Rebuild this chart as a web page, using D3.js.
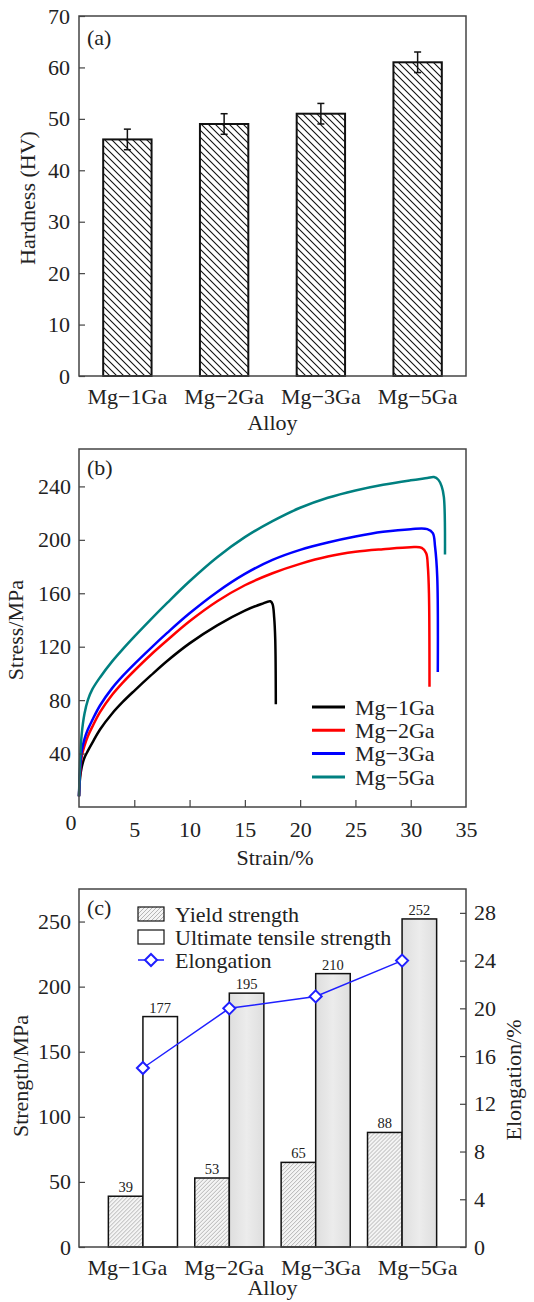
<!DOCTYPE html>
<html>
<head>
<meta charset="utf-8">
<script src="https://cdn.jsdelivr.net/npm/d3@7"></script>
<style>
  body { margin: 0; background: #fff; }
  text { font-family: "Liberation Serif", "Times New Roman", serif; fill: #222; }
</style>
</head>
<body>
<div id="chart"></div>
<script>
// ---- data ----
const alloys = ["Mg\u22121Ga", "Mg\u22122Ga", "Mg\u22123Ga", "Mg\u22125Ga"]

// (a) hardness
const hardness = [46, 49, 51, 61]
const hardnessErr = [2, 2, 2, 2]
const hardnessTicks = [0, 10, 20, 30, 40, 50, 60, 70]

// (b) stress-strain curves (strain %, stress MPa)
const strain1 = [0, 0.1, 0.25, 0.5, 0.8, 1.2, 1.9, 3, 4, 5, 6.5, 8, 10, 12.5, 15, 16.5, 17.3, 17.5, 17.65, 17.75, 17.8]
const stress1 = [8, 22, 30, 37, 42, 48, 58, 70, 79, 87, 98.5, 109.5, 122.5, 136, 147, 152, 154, 152, 142, 125, 77]
const strain2 = [0, 0.1, 0.25, 0.5, 0.8, 1.2, 1.9, 3, 4, 5, 6.5, 8, 10, 12.5, 15, 17.5, 20, 22.5, 25, 27.5, 30, 31, 31.4, 31.55, 31.65, 31.7]
const stress2 = [8, 25, 38, 46, 53, 60, 71, 84, 93.5, 102, 114, 125, 139, 154, 166, 175, 182, 187.5, 191, 193, 194.5, 194, 190, 180, 160, 90]
const strain3 = [0, 0.1, 0.25, 0.5, 0.8, 1.2, 1.9, 3, 4, 5, 6.5, 8, 10, 12.5, 15, 17.5, 20, 22.5, 25, 27.5, 30, 31.5, 32, 32.2, 32.4, 32.45]
const stress3 = [8, 28, 42, 51, 58, 65, 76, 89, 98.5, 107, 119, 130.5, 145, 161, 174.5, 185, 192.5, 198, 202.5, 206, 208, 208, 205, 195, 172, 101]
const strain5 = [0, 0.1, 0.25, 0.5, 0.8, 1.2, 1.9, 3, 4, 5, 6.5, 8, 10, 12.5, 15, 17.5, 20, 22.5, 25, 27.5, 30, 31.5, 32.1, 32.5, 32.8, 33, 33.1]
const stress5 = [8, 35, 55, 70, 80, 88, 97, 109, 118.5, 127.5, 140.5, 153, 169, 187, 202, 214, 224, 231.5, 237, 241.3, 244.6, 246.3, 247, 245, 240, 232, 189]
const curveColors = ["#000000", "#ff0000", "#0000ff", "#008080"]
const strainTicks = [5, 10, 15, 20, 25, 30, 35]
const stressTicks = [40, 80, 120, 160, 200, 240]

// (c) tensile properties
const yieldStrength = [39, 53, 65, 88]
const tensileStrength = [177, 195, 210, 252]
const elongation = [15, 20, 21, 24]
const strengthTicks = [0, 50, 100, 150, 200, 250]
const elongationTicks = [0, 4, 8, 12, 16, 20, 24, 28]

// ---- layout ----
const width = 534
const height = 1302
const left = 79
const right = 466
const fontSize = 22

const svg = d3.select("#chart")
  .append("svg")
  .attr("width", width)
  .attr("height", height)

const defs = svg.append("defs")

defs.append("pattern")
  .attr("id", "hatch-a")
  .attr("patternUnits", "userSpaceOnUse")
  .attr("width", 7)
  .attr("height", 7)
  .append("path")
  .attr("d", "M0,0 L7,7 M-1,6 L1,8 M6,-1 L8,1")
  .attr("stroke", "#111")
  .attr("stroke-width", 1.1)

const hatchC = defs.append("pattern")
  .attr("id", "hatch-c")
  .attr("patternUnits", "userSpaceOnUse")
  .attr("width", 4)
  .attr("height", 4)
hatchC.append("rect").attr("width", 4).attr("height", 4).attr("fill", "#f4f4f4")
hatchC.append("path")
  .attr("d", "M0,4 L4,0 M-1,1 L1,-1 M3,5 L5,3")
  .attr("stroke", "#9a9a9a")
  .attr("stroke-width", 0.7)

const grad = defs.append("linearGradient")
  .attr("id", "gray-fill")
  .attr("x1", "0").attr("x2", "1").attr("y1", "0").attr("y2", "0")
grad.append("stop").attr("offset", "0%").attr("stop-color", "#dedede")
grad.append("stop").attr("offset", "50%").attr("stop-color", "#ececec")
grad.append("stop").attr("offset", "100%").attr("stop-color", "#dedede")

function frame(top, bottom) {
  svg.append("rect")
    .attr("x", left)
    .attr("y", top)
    .attr("width", right - left)
    .attr("height", bottom - top)
    .attr("fill", "none")
    .attr("stroke", "#444")
    .attr("stroke-width", 1.5)
}

function styleAxis(g) {
  g.select(".domain").remove()
  g.selectAll(".tick line").attr("stroke", "#444").attr("stroke-width", 1.2)
  g.selectAll(".tick text")
    .attr("font-size", fontSize)
    .attr("font-family", "Liberation Serif, Times New Roman, serif")
    .attr("fill", "#222")
}

function yLabel(text, x, y) {
  svg.append("text")
    .attr("transform", `translate(${x},${y}) rotate(-90)`)
    .attr("text-anchor", "middle")
    .attr("dy", "0.35em")
    .attr("font-size", fontSize)
    .text(text)
}

function label(text, x, y, anchor) {
  svg.append("text")
    .attr("x", x)
    .attr("y", y)
    .attr("text-anchor", anchor || "middle")
    .attr("font-size", fontSize)
    .text(text)
}

// ---- (a) hardness ----
const aTop = 16, aBottom = 376
const xA = d3.scaleBand().domain(alloys).range([left, right]).paddingInner(0.5).paddingOuter(0.25)
const yA = d3.scaleLinear().domain([0, 70]).range([aBottom, aTop])

svg.append("g")
  .selectAll("rect")
  .data(alloys)
  .join("rect")
  .attr("x", d => xA(d))
  .attr("y", (d, i) => yA(hardness[i]))
  .attr("width", xA.bandwidth())
  .attr("height", (d, i) => aBottom - yA(hardness[i]))
  .attr("fill", "url(#hatch-a)")
  .attr("stroke", "#111")
  .attr("stroke-width", 2)

const err = svg.append("g").attr("stroke", "#111").attr("stroke-width", 1.5)
alloys.forEach((d, i) => {
  const cx = xA(d) + xA.bandwidth() / 2
  const lo = yA(hardness[i] - hardnessErr[i])
  const hi = yA(hardness[i] + hardnessErr[i])
  err.append("line").attr("x1", cx).attr("x2", cx).attr("y1", lo).attr("y2", hi)
  err.append("line").attr("x1", cx - 3.5).attr("x2", cx + 3.5).attr("y1", lo).attr("y2", lo)
  err.append("line").attr("x1", cx - 3.5).attr("x2", cx + 3.5).attr("y1", hi).attr("y2", hi)
})

svg.append("g")
  .attr("transform", `translate(${left},0)`)
  .call(d3.axisLeft(yA).tickValues(hardnessTicks).tickSize(-6).tickPadding(9))
  .call(styleAxis)

svg.append("g")
  .attr("transform", `translate(0,${aBottom})`)
  .call(d3.axisBottom(xA).tickSize(0).tickPadding(12))
  .call(styleAxis)

frame(aTop, aBottom)
label("(a)", 87, 45, "start")
label("Alloy", (left + right) / 2, 430)
yLabel("Hardness (HV)", 27, 198)

// ---- (b) stress-strain ----
const bTop = 449, bBottom = 807
const xB = d3.scaleLinear().domain([0, 35]).range([left, right])
const yB = d3.scaleLinear().domain([0, 268]).range([bBottom, bTop])

const curves = [
  {name: alloys[0], strain: strain1, stress: stress1},
  {name: alloys[1], strain: strain2, stress: stress2},
  {name: alloys[2], strain: strain3, stress: stress3},
  {name: alloys[3], strain: strain5, stress: stress5}
]

const line = d3.line()
  .x(d => xB(d[0]))
  .y(d => yB(d[1]))
  .curve(d3.curveCatmullRom.alpha(0.5))

curves.forEach((c, i) => {
  svg.append("path")
    .datum(d3.zip(c.strain, c.stress))
    .attr("fill", "none")
    .attr("stroke", curveColors[i])
    .attr("stroke-width", 2.5)
    .attr("stroke-linejoin", "round")
    .attr("d", line)
})

svg.append("g")
  .attr("transform", `translate(${left},0)`)
  .call(d3.axisLeft(yB).tickValues(stressTicks).tickSize(-6).tickPadding(8))
  .call(styleAxis)

svg.append("g")
  .attr("transform", `translate(0,${bBottom})`)
  .call(d3.axisBottom(xB).tickValues(strainTicks).tickSize(-7).tickPadding(14))
  .call(styleAxis)
  .call(g => g.selectAll(".tick").filter(d => d === 35).select("line").remove())

frame(bTop, bBottom)
label("0", 71, 830)
label("(b)", 87, 475, "start")
label("Strain/%", 275, 865)
yLabel("Stress/MPa", 15, 630)

const legB = svg.append("g")
curves.forEach((c, i) => {
  const y = 707 + i * 23.3
  legB.append("line")
    .attr("x1", 312).attr("x2", 345).attr("y1", y).attr("y2", y)
    .attr("stroke", curveColors[i]).attr("stroke-width", 3)
  legB.append("text")
    .attr("x", 355).attr("y", y).attr("dy", "0.35em")
    .attr("font-size", fontSize)
    .text(c.name)
})

// ---- (c) tensile properties ----
const cTop = 889, cBottom = 1247
const xC = d3.scaleBand().domain(alloys).range([left, right]).paddingInner(0).paddingOuter(0.24)
const xSub = d3.scaleBand().domain(["ys", "uts"]).range([0, xC.bandwidth() * 0.8])
const yC = d3.scaleLinear().domain([0, 275]).range([cBottom, cTop])
const yE = d3.scaleLinear().domain([0, 30]).range([cBottom, cTop])
const barOffset = xC.bandwidth() * 0.1

const groups = svg.append("g")
  .selectAll("g")
  .data(alloys)
  .join("g")
  .attr("transform", d => `translate(${xC(d) + barOffset},0)`)

groups.append("rect")
  .attr("x", xSub("ys"))
  .attr("y", (d, i) => yC(yieldStrength[i]))
  .attr("width", xSub.bandwidth())
  .attr("height", (d, i) => cBottom - yC(yieldStrength[i]))
  .attr("fill", "url(#hatch-c)")
  .attr("stroke", "#111")
  .attr("stroke-width", 1.5)

groups.append("rect")
  .attr("x", xSub("uts"))
  .attr("y", (d, i) => yC(tensileStrength[i]))
  .attr("width", xSub.bandwidth())
  .attr("height", (d, i) => cBottom - yC(tensileStrength[i]))
  .attr("fill", (d, i) => i === 0 ? "#fff" : "url(#gray-fill)")
  .attr("stroke", "#111")
  .attr("stroke-width", 1.5)

groups.append("text")
  .attr("x", xSub("ys") + xSub.bandwidth() / 2)
  .attr("y", (d, i) => yC(yieldStrength[i]) - 4)
  .attr("text-anchor", "middle")
  .attr("font-size", 14.5)
  .text((d, i) => yieldStrength[i])

groups.append("text")
  .attr("x", xSub("uts") + xSub.bandwidth() / 2)
  .attr("y", (d, i) => yC(tensileStrength[i]) - 4)
  .attr("text-anchor", "middle")
  .attr("font-size", 14.5)
  .text((d, i) => tensileStrength[i])

const diamond = "M0,-6 L6,0 L0,6 L-6,0 Z"
const elongPts = alloys.map((d, i) => [xC(d) + xC.bandwidth() / 2, yE(elongation[i])])

svg.append("path")
  .datum(elongPts)
  .attr("fill", "none")
  .attr("stroke", "#1f1fff")
  .attr("stroke-width", 1.5)
  .attr("d", d3.line())

svg.append("g")
  .selectAll("path")
  .data(elongPts)
  .join("path")
  .attr("transform", d => `translate(${d[0]},${d[1]})`)
  .attr("d", diamond)
  .attr("fill", "#fff")
  .attr("stroke", "#1f1fff")
  .attr("stroke-width", 2)

svg.append("g")
  .attr("transform", `translate(${left},0)`)
  .call(d3.axisLeft(yC).tickValues(strengthTicks).tickSize(-6).tickPadding(8))
  .call(styleAxis)

svg.append("g")
  .attr("transform", `translate(${right},0)`)
  .call(d3.axisRight(yE).tickValues(elongationTicks).tickSize(-6).tickPadding(8))
  .call(styleAxis)

svg.append("g")
  .attr("transform", `translate(0,${cBottom})`)
  .call(d3.axisBottom(xA).tickSize(0).tickPadding(12))
  .call(styleAxis)

frame(cTop, cBottom)
label("(c)", 87, 915, "start")
label("Alloy", (left + right) / 2, 1295)
yLabel("Strength/MPa", 20, 1076)
yLabel("Elongation/%", 513, 1080)

const legC = svg.append("g")
legC.append("rect").attr("x", 138).attr("y", 907).attr("width", 26).attr("height", 14)
  .attr("fill", "url(#hatch-c)").attr("stroke", "#111").attr("stroke-width", 1.2)
legC.append("rect").attr("x", 138).attr("y", 930).attr("width", 26).attr("height", 14)
  .attr("fill", "#fff").attr("stroke", "#111").attr("stroke-width", 1.2)
legC.append("line").attr("x1", 138).attr("x2", 164).attr("y1", 960).attr("y2", 960)
  .attr("stroke", "#1f1fff").attr("stroke-width", 1.5)
legC.append("path").attr("transform", "translate(151,960)").attr("d", diamond)
  .attr("fill", "#fff").attr("stroke", "#1f1fff").attr("stroke-width", 2)
const legTexts = ["Yield strength", "Ultimate tensile strength", "Elongation"]
legTexts.forEach((t, i) => {
  legC.append("text")
    .attr("x", 175).attr("y", 914 + i * 23).attr("dy", "0.35em")
    .attr("font-size", fontSize)
    .text(t)
})
</script>
</body>
</html>
